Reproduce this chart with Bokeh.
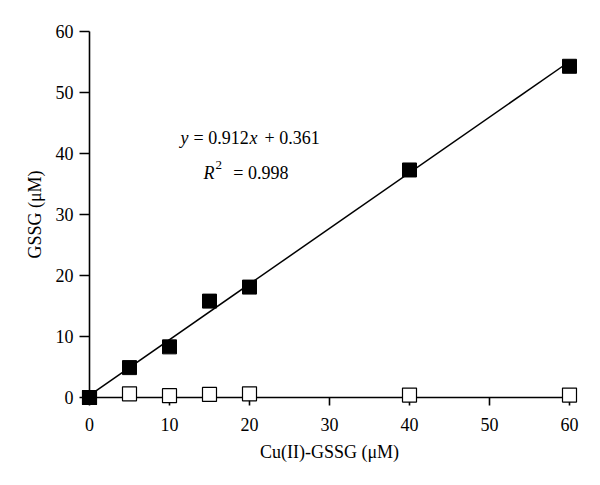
from bokeh.plotting import figure
from bokeh.models import Range1d, Label, FixedTicker
from bokeh.embed import file_html
from bokeh.resources import INLINE

x_vals = [0, 5, 10, 15, 20, 40, 60]
cu_gssg_filled = [0.0, 4.9, 8.3, 15.8, 18.1, 37.3, 54.3]
open_vals = [0.0, 0.6, 0.3, 0.5, 0.6, 0.4, 0.4]
slope = 0.912
intercept = 0.361
r2 = 0.998
fit_x = [0, 60]
ticks = [0, 10, 20, 30, 40, 50, 60]

FONT = "Liberation Serif"
NB = "\u00a0"

# canvas-to-data mapping: x=0 at 89 px, 8 px/unit; y=0 at 397 px, 6.1 px/unit
XS, X0 = 8.0, 89.0
YS, Y0 = 6.1, 397.0
p = figure(width=600, height=485, output_backend="svg", toolbar_location=None,
           x_range=Range1d(-X0 / XS, (600 - X0) / XS),
           y_range=Range1d(-(485 - Y0) / YS, Y0 / YS),
           min_border_left=0, min_border_right=0, min_border_top=0, min_border_bottom=0)
p.outline_line_color = None
p.grid.visible = False
p.background_fill_color = "white"


def dx(px):
    return (px - X0) / XS


def dy(py):
    return (Y0 - py) / YS


fit_y = [slope * xx + intercept for xx in fit_x]
p.line(fit_x, fit_y, line_color="black", line_width=1.5)
p.scatter(x_vals, open_vals, marker="square", size=14, fill_color="white",
          line_color="black", line_width=1.2)
p.scatter(x_vals, cu_gssg_filled, marker="square", size=14, fill_color="black",
          line_color="black", line_width=1)

for ax in (p.xaxis[0], p.yaxis[0]):
    ax.level = "underlay"
    ax.fixed_location = 0
    ax.bounds = (0, 60)
    ax.ticker = FixedTicker(ticks=ticks)
    ax.minor_tick_line_color = None
    ax.major_tick_in = 0
    ax.axis_line_color = "black"
    ax.axis_line_width = 1.6
    ax.major_tick_line_width = 1.6
    ax.major_label_text_font = FONT
    ax.major_label_text_font_size = "18px"
    ax.major_label_text_color = "black"
    ax.axis_label_text_font = FONT
    ax.axis_label_text_font_size = "18px"
    ax.axis_label_text_font_style = "normal"
    ax.axis_label_text_color = "black"
    ax.axis_label_standoff = 8

p.xaxis.major_tick_out = 8
p.xaxis.major_label_standoff = 12
p.yaxis.major_tick_out = 10
p.yaxis.major_label_standoff = 6
p.xaxis.axis_label = "Cu(II)-GSSG (μM)"
p.yaxis.axis_label = "GSSG (μM)"


def piece(px, py, text, style="normal", size="18px", align="left"):
    p.add_layout(Label(x=dx(px), y=dy(py), text=text, text_font=FONT, text_font_size=size,
                       text_font_style=style, text_color="black", text_align=align,
                       text_baseline="alphabetic"))


# equation: y = 0.912x + 0.361
piece(180, 137, "y", "italic")
piece(193, 137, "=" + NB + "0.912")
piece(249, 137, "x", "italic")
piece(264, 137, "+" + NB + "0.361")
# R^2 = 0.998
piece(203, 172, "R", "italic")
piece(215, 164, "2", size="13px")
piece(288, 172, "=" + NB + "0.998", align="right")

open("out.html", "w").write(file_html(p, INLINE))
